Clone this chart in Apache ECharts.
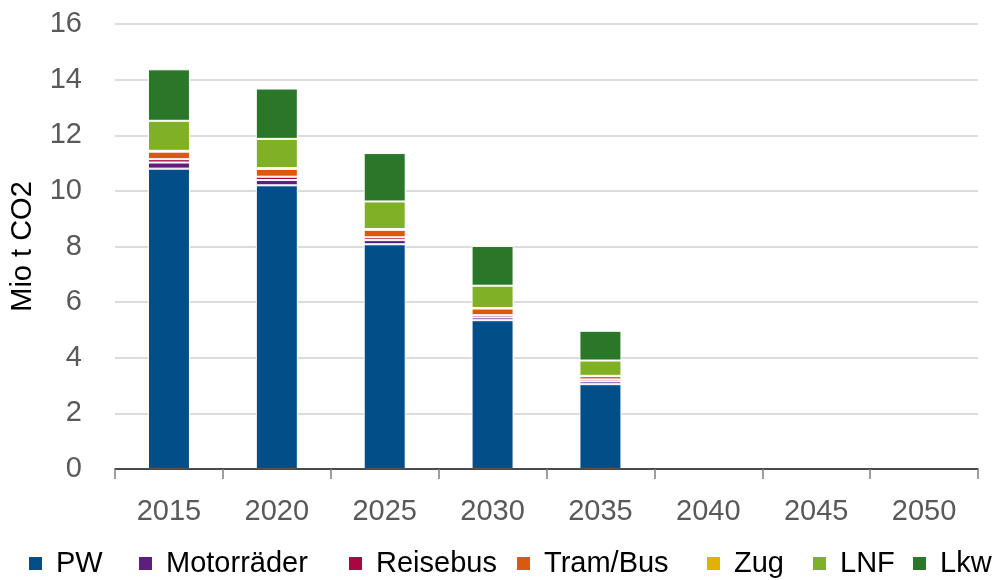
<!DOCTYPE html>
<html>
<head>
<meta charset="utf-8">
<script src="https://cdn.jsdelivr.net/npm/echarts@6/dist/echarts.min.js"></script>
<style>
  html, body { margin: 0; padding: 0; background: #fff; }
  #chart { width: 994px; height: 580px; }
</style>
</head>
<body>
<div id="chart"></div>
<script>
// Jahre
const years = ['2015', '2020', '2025', '2030', '2035', '2040', '2045', '2050']

// Emissionen je Kategorie, Mio t CO2
const pw = [10.8, 10.2, 8.08, 5.35, 3.05, 0, 0, 0]
const motorraeder = [0.22, 0.19, 0.15, 0.1, 0.1, 0, 0, 0]
const reisebus = [0.12, 0.12, 0.1, 0.08, 0.07, 0, 0, 0]
const tramBus = [0.27, 0.28, 0.27, 0.24, 0.12, 0, 0, 0]
const zug = [0.03, 0.03, 0.03, 0.02, 0.01, 0, 0, 0]
const lnf = [1.08, 1.05, 0.99, 0.8, 0.55, 0, 0, 0]
const lkw = [1.85, 1.81, 1.74, 1.43, 1.07, 0, 0, 0]

const seriesList = [
  { name: 'PW', data: pw, color: '#024e88' },
  { name: 'Motorräder', data: motorraeder, color: '#5e1f7c' },
  { name: 'Reisebus', data: reisebus, color: '#a8083f' },
  { name: 'Tram/Bus', data: tramBus, color: '#dc580c' },
  { name: 'Zug', data: zug, color: '#e3b005' },
  { name: 'LNF', data: lnf, color: '#80b025' },
  { name: 'Lkw', data: lkw, color: '#2a7729' },
]

// Legendenpositionen (linke Kante Symbol)
const legendLeft = [27, 137, 347, 515, 705, 811, 911]

const font = '"Liberation Sans", Arial, sans-serif'

const chart = echarts.init(document.getElementById('chart'), null, { renderer: 'canvas' })

const option = {
  animation: false,
  textStyle: { fontFamily: font },
  grid: { left: 115, right: 16, top: 24, bottom: 111 },
  legend: seriesList.map((s, i) => ({
    data: [s.name],
    left: legendLeft[i],
    top: 549,
    itemWidth: 15,
    itemHeight: 15,
    icon: 'rect',
    padding: 0,
    textStyle: { fontSize: 29, color: '#000', fontFamily: font, padding: [0, 0, 0, 8] },
  })),
  xAxis: {
    type: 'category',
    data: years,
    z: 5,
    axisLine: { lineStyle: { color: '#1a1a1a', width: 1.5 } },
    axisTick: { show: true, length: 10, lineStyle: { color: '#7f7f7f', width: 1.5 } },
    axisLabel: { fontSize: 29, color: '#595959', margin: 28, fontFamily: font },
  },
  yAxis: {
    type: 'value',
    min: 0,
    max: 16,
    interval: 2,
    name: 'Mio t CO2',
    nameLocation: 'middle',
    nameGap: 78,
    nameTextStyle: { fontSize: 29, color: '#000', fontFamily: font },
    axisLine: { show: false },
    axisTick: { show: false },
    axisLabel: { fontSize: 29, color: '#595959', margin: 33, fontFamily: font },
    splitLine: { lineStyle: { color: '#d0d0d0', width: 1.5 } },
  },
  series: seriesList.map((s) => ({
    name: s.name,
    type: 'bar',
    stack: 'total',
    barWidth: 42,
    data: s.data.map((v) => (v === 0 ? { value: 0, itemStyle: { borderWidth: 0 } } : v)),
    itemStyle: { color: s.color, borderColor: '#ffffff', borderWidth: 1 },
  })),
}

chart.setOption(option)
</script>
</body>
</html>
